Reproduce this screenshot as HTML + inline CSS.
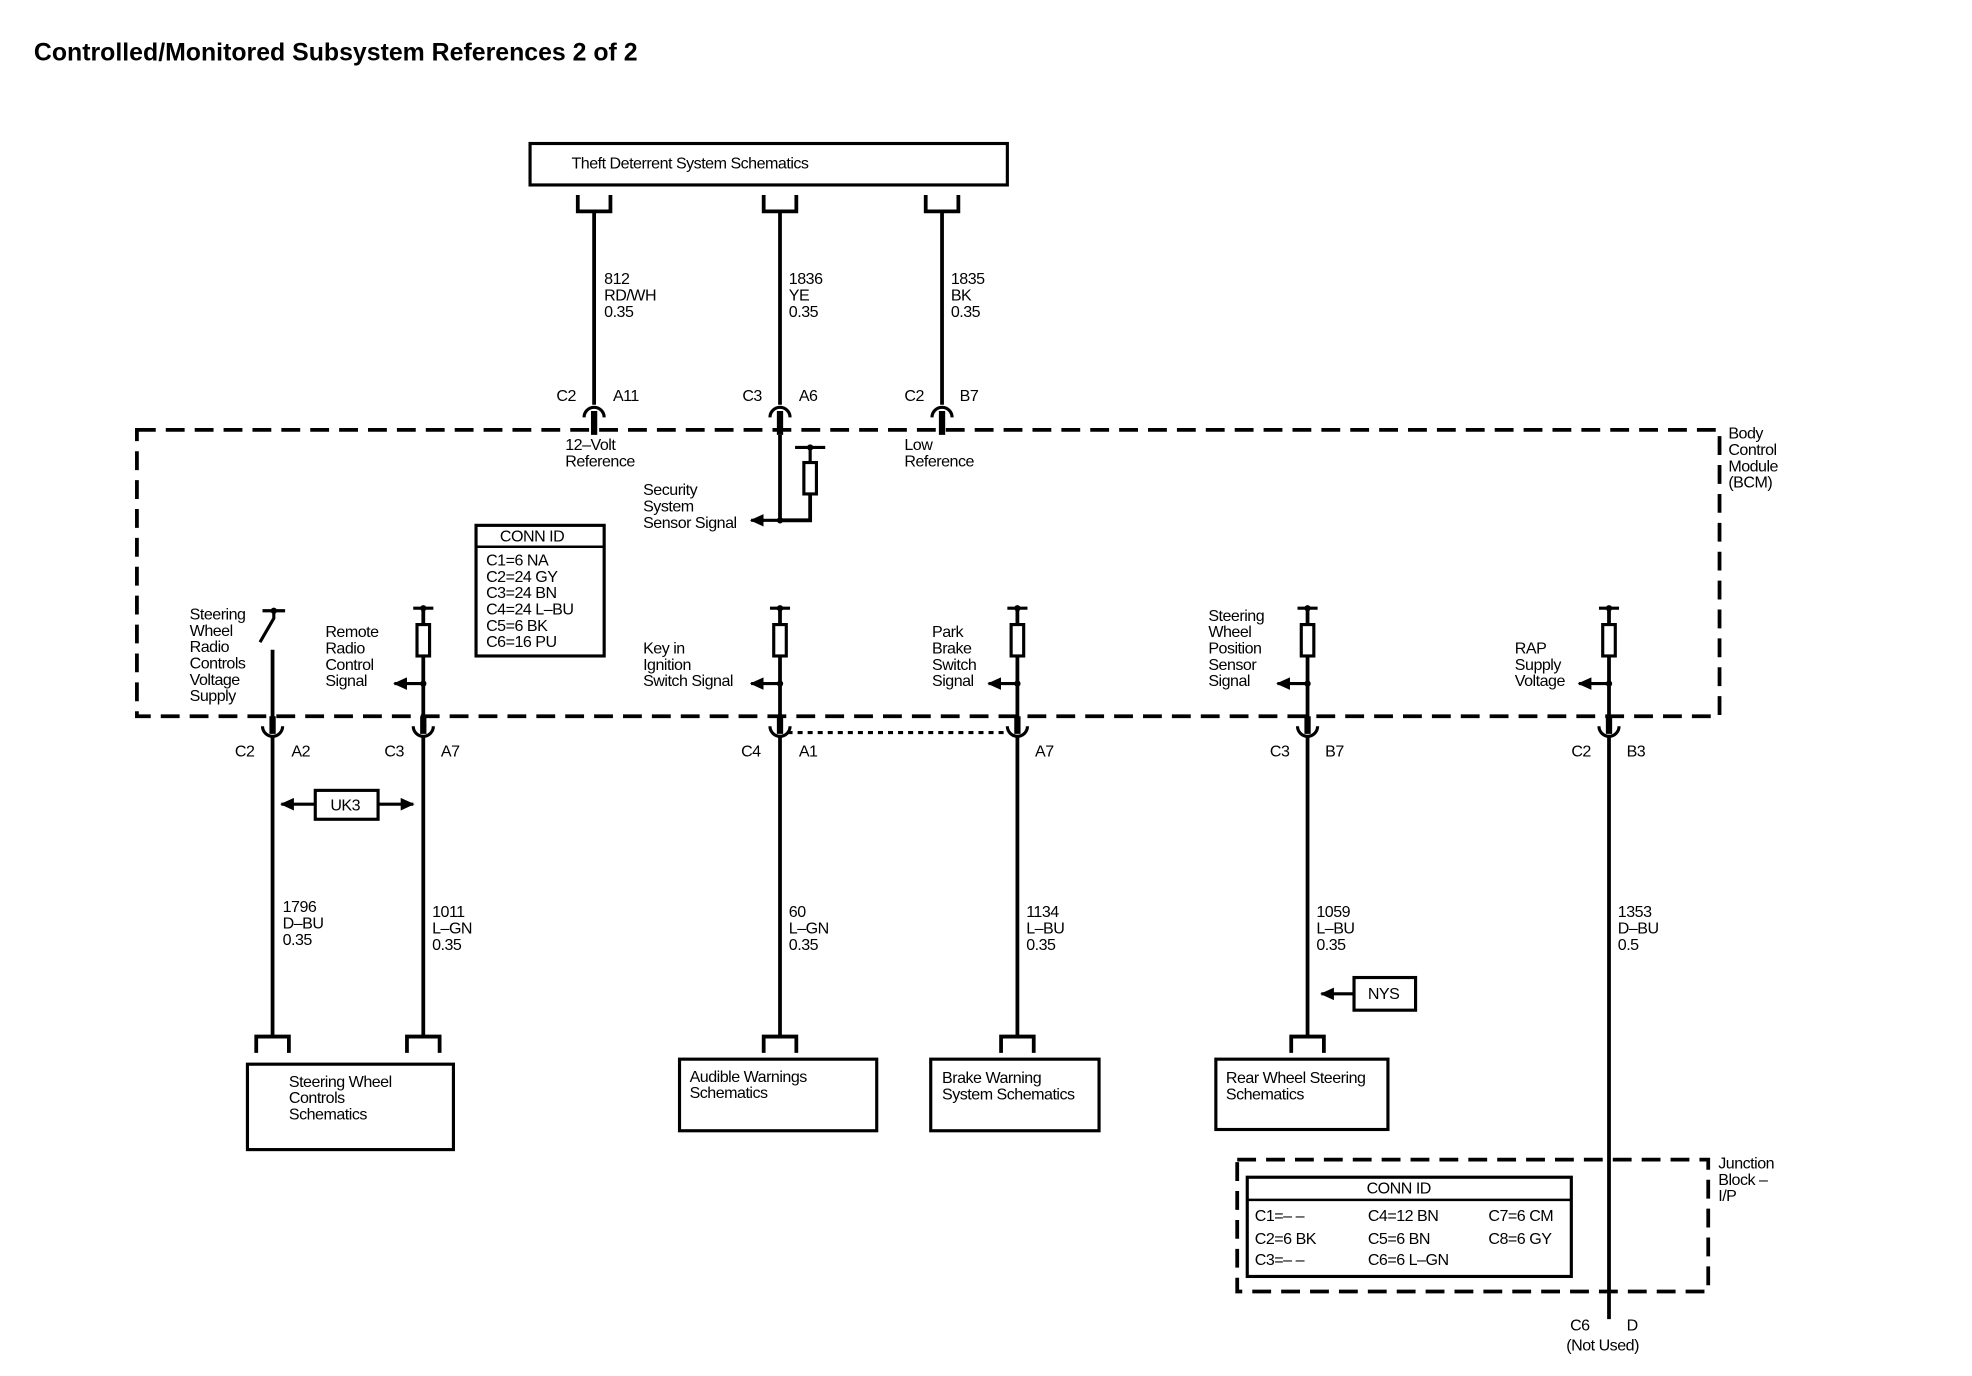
<!DOCTYPE html>
<html><head><meta charset="utf-8"><style>
html,body{margin:0;padding:0;background:#fff;}
svg{display:block}
text{font-family:"Liberation Sans",Arial,sans-serif;font-size:12.8px;fill:#000;letter-spacing:-0.4px}
</style></head><body>
<svg width="1972" height="1376" viewBox="0 0 1570 1095" xmlns="http://www.w3.org/2000/svg">
<defs>
<marker id="ah" markerWidth="11" markerHeight="10" refX="10" refY="5" orient="auto" markerUnits="userSpaceOnUse">
<path d="M0,0 L11,5 L0,10 Z" fill="#000"/></marker>
</defs>
<text x="27" y="48" style="font-size:19.8px;font-weight:bold;letter-spacing:0px">Controlled/Monitored Subsystem References 2 of 2</text>

<g fill="none" stroke="#000" stroke-width="3">
<rect x="422" y="114" width="380" height="33" stroke-width="2.5"/>
<path d="M460 155V168H486V155M608 155V168H634V155M737 155V168H763V155"/>
<path d="M473 168V322M621 168V322M750 168V322"/>
<path d="M465 332A8 8 0 0 1 481 332M613 332A8 8 0 0 1 629 332M742 332A8 8 0 0 1 758 332" stroke-width="2.5"/>
<path d="M473 327V346M621 327V346M750 327V346" stroke-width="5"/>
<rect x="109" y="342" width="1260" height="228" stroke-dasharray="15 8"/>
<path d="M621 346V414H645V393"/>
<path d="M633 356H657M645 356V368" stroke-width="2.5"/>
<rect x="640" y="368" width="10" height="25" stroke-width="2.5"/>
<path d="M621 414H598" stroke-width="2.5" marker-end="url(#ah)"/>
<rect x="379" y="418" width="102" height="104" stroke-width="2.5"/>
<path d="M379 435H481" stroke-width="2"/>
<path d="M209 486H227M218 486V492L207 511" stroke-width="2.5"/>
<path d="M217 517V577"/>
<path d="M329 484H345" stroke-width="2.5"/><path d="M337 484V497M337 522V577"/><rect x="332" y="497" width="10" height="25" stroke-width="2.5"/>
<path d="M337 544H314" stroke-width="2.5" marker-end="url(#ah)"/>
<path d="M613 484H629" stroke-width="2.5"/><path d="M621 484V497M621 522V577"/><rect x="616" y="497" width="10" height="25" stroke-width="2.5"/>
<path d="M621 544H598" stroke-width="2.5" marker-end="url(#ah)"/>
<path d="M802 484H818" stroke-width="2.5"/><path d="M810 484V497M810 522V577"/><rect x="805" y="497" width="10" height="25" stroke-width="2.5"/>
<path d="M810 544H787" stroke-width="2.5" marker-end="url(#ah)"/>
<path d="M1033 484H1049" stroke-width="2.5"/><path d="M1041 484V497M1041 522V577"/><rect x="1036" y="497" width="10" height="25" stroke-width="2.5"/>
<path d="M1041 544H1017" stroke-width="2.5" marker-end="url(#ah)"/>
<path d="M1273 484H1289" stroke-width="2.5"/><path d="M1281 484V497M1281 522V577"/><rect x="1276" y="497" width="10" height="25" stroke-width="2.5"/>
<path d="M1281 544H1257" stroke-width="2.5" marker-end="url(#ah)"/>
<path d="M217 570V584M337 570V584M621 570V584M810 570V584M1041 570V584M1281 570V584" stroke-width="5"/>
<path d="M209 578A8 8 0 0 0 225 578M329 578A8 8 0 0 0 345 578M613 578A8 8 0 0 0 629 578M802 578A8 8 0 0 0 818 578M1033 578A8 8 0 0 0 1049 578M1273 578A8 8 0 0 0 1289 578" stroke-width="2.5"/>
<path d="M627 583H804" stroke-dasharray="4 4" stroke-width="2.5"/>
<path d="M217 586V825M337 586V825M621 586V825M810 586V825M1041 586V825M1281 586V1050"/>
<rect x="251" y="629" width="50" height="23" stroke-width="2.5"/>
<path d="M251 640H224" stroke-width="2.5" marker-end="url(#ah)"/>
<path d="M301 640H329" stroke-width="2.5" marker-end="url(#ah)"/>
<rect x="1078" y="778" width="49" height="26" stroke-width="2.5"/>
<path d="M1078 791H1052" stroke-width="2.5" marker-end="url(#ah)"/>
<path d="M204 838V825H230V838M324 838V825H350V838M608 838V825H634V838M797 838V825H823V838M1028 838V825H1054V838"/>
<rect x="197" y="847" width="164" height="68" stroke-width="2.5"/>
<rect x="541" y="843" width="157" height="57" stroke-width="2.5"/>
<rect x="741" y="843" width="134" height="57" stroke-width="2.5"/>
<rect x="968" y="843" width="137" height="56" stroke-width="2.5"/>
<rect x="985" y="923" width="375" height="105" stroke-dasharray="15 8"/>
<rect x="993" y="937" width="258" height="79" stroke-width="2.5"/>
<path d="M993 955H1251" stroke-width="2"/>
</g>
<g fill="#000">
<circle cx="621" cy="414" r="2.5"/><circle cx="645" cy="356" r="2.5"/>
<circle cx="337" cy="484" r="2.5"/><circle cx="337" cy="544" r="2.5"/>
<circle cx="621" cy="484" r="2.5"/><circle cx="621" cy="544" r="2.5"/>
<circle cx="810" cy="484" r="2.5"/><circle cx="810" cy="544" r="2.5"/>
<circle cx="1041" cy="484" r="2.5"/><circle cx="1041" cy="544" r="2.5"/>
<circle cx="1281" cy="484" r="2.5"/><circle cx="1281" cy="544" r="2.5"/>
<circle cx="218" cy="486" r="2.5"/>
</g>

<text x="455" y="134">Theft Deterrent System Schematics</text>
<text x="481" y="226">812</text><text x="481" y="239">RD/WH</text><text x="481" y="252">0.35</text>
<text x="628" y="226">1836</text><text x="628" y="239">YE</text><text x="628" y="252">0.35</text>
<text x="757" y="226">1835</text><text x="757" y="239">BK</text><text x="757" y="252">0.35</text>
<text x="443" y="319">C2</text><text x="488" y="319">A11</text>
<text x="591" y="319">C3</text><text x="636" y="319">A6</text>
<text x="720" y="319">C2</text><text x="764" y="319">B7</text>
<text x="450" y="358">12–Volt</text><text x="450" y="371">Reference</text>
<text x="720" y="358">Low</text><text x="720" y="371">Reference</text>
<text x="1376" y="349">Body</text><text x="1376" y="362">Control</text><text x="1376" y="375">Module</text><text x="1376" y="388">(BCM)</text>
<text x="512" y="394">Security</text><text x="512" y="407">System</text><text x="512" y="420">Sensor Signal</text>
<text x="398" y="431">CONN ID</text>
<text x="387" y="450">C1=6 NA</text><text x="387" y="463">C2=24 GY</text><text x="387" y="476">C3=24 BN</text><text x="387" y="489">C4=24 L–BU</text><text x="387" y="502">C5=6 BK</text><text x="387" y="515">C6=16 PU</text>
<text x="151" y="493">Steering</text><text x="151" y="506">Wheel</text><text x="151" y="519">Radio</text><text x="151" y="532">Controls</text><text x="151" y="545">Voltage</text><text x="151" y="558">Supply</text>
<text x="259" y="507">Remote</text><text x="259" y="520">Radio</text><text x="259" y="533">Control</text><text x="259" y="546">Signal</text>
<text x="512" y="520">Key in</text><text x="512" y="533">Ignition</text><text x="512" y="546">Switch Signal</text>
<text x="742" y="507">Park</text><text x="742" y="520">Brake</text><text x="742" y="533">Switch</text><text x="742" y="546">Signal</text>
<text x="962" y="494">Steering</text><text x="962" y="507">Wheel</text><text x="962" y="520">Position</text><text x="962" y="533">Sensor</text><text x="962" y="546">Signal</text>
<text x="1206" y="520">RAP</text><text x="1206" y="533">Supply</text><text x="1206" y="546">Voltage</text>
<text x="187" y="602">C2</text><text x="232" y="602">A2</text>
<text x="306" y="602">C3</text><text x="351" y="602">A7</text>
<text x="590" y="602">C4</text><text x="636" y="602">A1</text>
<text x="824" y="602">A7</text>
<text x="1011" y="602">C3</text><text x="1055" y="602">B7</text>
<text x="1251" y="602">C2</text><text x="1295" y="602">B3</text>
<text x="263" y="645">UK3</text>
<text x="1089" y="795">NYS</text>
<text x="225" y="726">1796</text><text x="225" y="739">D–BU</text><text x="225" y="752">0.35</text>
<text x="344" y="730">1011</text><text x="344" y="743">L–GN</text><text x="344" y="756">0.35</text>
<text x="628" y="730">60</text><text x="628" y="743">L–GN</text><text x="628" y="756">0.35</text>
<text x="817" y="730">1134</text><text x="817" y="743">L–BU</text><text x="817" y="756">0.35</text>
<text x="1048" y="730">1059</text><text x="1048" y="743">L–BU</text><text x="1048" y="756">0.35</text>
<text x="1288" y="730">1353</text><text x="1288" y="743">D–BU</text><text x="1288" y="756">0.5</text>
<text x="230" y="865">Steering Wheel</text><text x="230" y="878">Controls</text><text x="230" y="891">Schematics</text>
<text x="549" y="861">Audible Warnings</text><text x="549" y="874">Schematics</text>
<text x="750" y="862">Brake Warning</text><text x="750" y="875">System Schematics</text>
<text x="976" y="862">Rear Wheel Steering</text><text x="976" y="875">Schematics</text>
<text x="1368" y="930">Junction</text><text x="1368" y="943">Block –</text><text x="1368" y="956">I/P</text>
<text x="1088" y="950">CONN ID</text>
<text x="999" y="972">C1=– –</text><text x="1089" y="972">C4=12 BN</text><text x="1185" y="972">C7=6 CM</text>
<text x="999" y="990">C2=6 BK</text><text x="1089" y="990">C5=6 BN</text><text x="1185" y="990">C8=6 GY</text>
<text x="999" y="1007">C3=– –</text><text x="1089" y="1007">C6=6 L–GN</text>
<text x="1250" y="1059">C6</text><text x="1295" y="1059">D</text>
<text x="1247" y="1075">(Not Used)</text>
</svg>
</body></html>
